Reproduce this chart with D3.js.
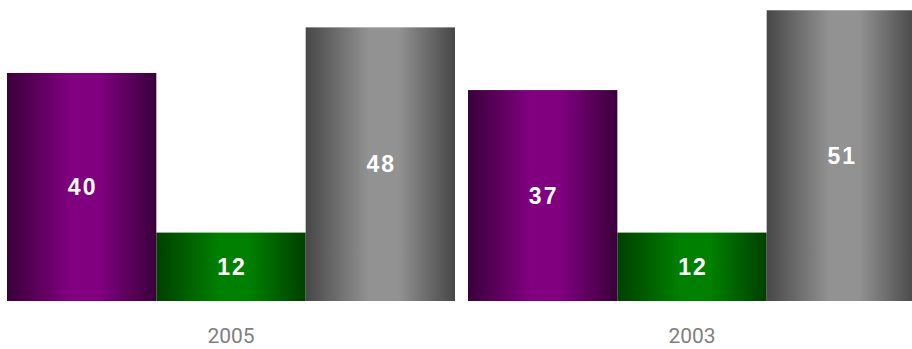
<!DOCTYPE html>
<html>
<head>
<meta charset="utf-8">
<script src="https://cdn.jsdelivr.net/npm/d3@7"></script>
<style>
  html, body { margin: 0; padding: 0; background: #ffffff; }
  svg { display: block; }
</style>
</head>
<body>
<div id="chart"></div>
<script>
const groups = ["2005", "2003"];
const seriesNames = ["A", "B", "C"];
const values2005 = [40, 12, 48];
const values2003 = [37, 12, 51];
const seriesColors = [
  { dark: "#3a003a", light: "#800080" },
  { dark: "#003f00", light: "#008000" },
  { dark: "#474747", light: "#929292" }
];

const W = 912, H = 349;
const data = groups.map((g, i) => ({ group: g, values: [values2005, values2003][i] }));

const svg = d3.select("#chart").append("svg").attr("width", W).attr("height", H);
const defs = svg.append("defs");
seriesColors.forEach((c, i) => {
  const lg = defs.append("linearGradient").attr("id", "g" + i)
    .attr("x1", "0%").attr("x2", "100%").attr("y1", "0%").attr("y2", "0%");
  lg.append("stop").attr("offset", "0%").attr("stop-color", c.dark);
  lg.append("stop").attr("offset", "42%").attr("stop-color", c.light);
  lg.append("stop").attr("offset", "62%").attr("stop-color", c.light);
  lg.append("stop").attr("offset", "100%").attr("stop-color", c.dark);
});

const x0 = d3.scaleBand().domain(groups).range([7, 916]).paddingInner(0.0282).paddingOuter(0);
const x1 = d3.scaleBand().domain(seriesNames).range([0, x0.bandwidth()]).padding(0);
const y = d3.scaleLinear().domain([0, 52.8]).range([301, 0]);

const g = svg.selectAll("g.grp").data(data).join("g").attr("class", "grp")
  .attr("transform", d => `translate(${x0(d.group)},0)`);

const bars = g.selectAll("g.bar").data(d => d.values.map((v, i) => ({ s: seriesNames[i], v, i })))
  .join("g").attr("class", "bar");

bars.append("rect")
  .attr("x", d => x1(d.s))
  .attr("y", d => y(d.v))
  .attr("width", x1.bandwidth())
  .attr("height", d => y(0) - y(d.v))
  .attr("fill", d => `url(#g${d.i})`);

bars.append("text")
  .attr("x", d => x1(d.s) + x1.bandwidth() / 2 + 1)
  .attr("y", d => (y(d.v) + y(0)) / 2)
  .attr("dy", "0.36em")
  .attr("text-anchor", "middle")
  .attr("fill", "#ffffff")
  .attr("font-family", "'Liberation Sans', Arial, sans-serif")
  .attr("font-weight", "bold")
  .attr("font-size", "23px")
  .attr("letter-spacing", "2px")
  .text(d => d.v);

const axis = d3.axisBottom(x0).tickSize(0).tickPadding(0);
const ax = svg.append("g").attr("transform", "translate(0,328)").call(axis);
ax.select(".domain").remove();
ax.selectAll("text")
  .attr("fill", "#808080")
  .attr("font-family", "Roboto, 'Liberation Sans', sans-serif")
  .attr("font-size", "21px")
  .attr("dy", "0.71em");
</script>
</body>
</html>
